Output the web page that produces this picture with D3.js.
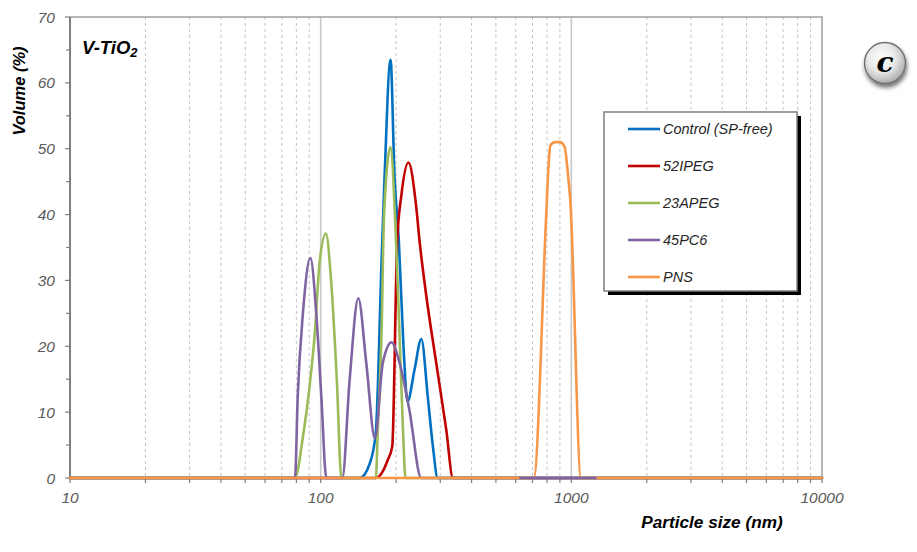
<!DOCTYPE html>
<html><head><meta charset="utf-8">
<script src="https://cdn.jsdelivr.net/npm/d3@7"></script>
<style>body{margin:0;background:#fff}svg{display:block}</style>
</head><body><svg id="chart" width="917" height="552"></svg>
<script>
// ---- data ----
const seriesNames  = ["Control (SP-free)", "52IPEG", "23APEG", "45PC6", "PNS"];
const seriesColors = ["#0070C0", "#C00000", "#9BBB59", "#8064A2", "#F79646"];

const controlSize = [10, 143, 157, 166, 175, 180, 190, 197, 205, 214, 222, 237, 252, 268, 280, 293, 10000];
const controlVol  = [0, 0, 2.2, 7, 33, 46, 63.5, 46, 36, 20, 11.6, 16.5, 21.1, 12, 5, 0, 0];

const ipegSize = [10, 166, 178, 185, 193, 202, 210, 224, 240, 248, 264, 289, 317, 337, 10000];
const ipegVol  = [0, 0, 1.2, 2.7, 4.8, 36, 43, 47.9, 41.5, 36, 27.6, 17.5, 7.3, 0, 0];

const apegSize = [10, 79, 85, 90, 95, 99, 105, 110, 116, 121, 166, 169, 175, 179, 190, 199, 206, 213, 218, 10000];
const apegVol  = [0, 0, 6.3, 13.4, 22.5, 32.7, 37.1, 30.1, 14.9, 0, 0, 7.3, 22.5, 40, 50.2, 37.7, 22.5, 7.3, 0, 0];

const pc6Size = [10, 79, 81, 85, 91, 96, 100.6, 105.4, 122, 130.5, 141.3, 152, 164.6, 177, 191.8, 206.4, 226, 252, 10000];
const pc6Vol  = [0, 0, 12.4, 25.1, 33.4, 25.1, 12.4, 0, 0, 14.9, 27.3, 17.5, 6.0, 17.5, 20.6, 17.5, 10.3, 0, 0];
const pc6TailSize = [620, 1260];
const pc6TailVol  = [0, 0];

const pnsSize = [10, 708, 793, 810, 825, 860, 900, 940, 970, 991, 1093, 10000];
const pnsVol  = [0, 0, 39.5, 47, 50.5, 51, 51, 50.3, 46, 42, 0, 0];

const xTickLabels = [10, 100, 1000, 10000];
const yTickLabels = [0, 10, 20, 30, 40, 50, 60, 70];
const chartTitle = "V-TiO";
const xTitle = "Particle size (nm)";
const yTitle = "Volume (%)";
const panelLetter = "c";

// ---- drawing ----
const FONT = "'Liberation Sans', Arial, sans-serif";
const svg = d3.select("#chart");
const L = 70, R = 822, T = 17, B = 478;
const x = d3.scaleLog().domain([10, 10000]).range([L, R]);
const y = d3.scaleLinear().domain([0, 70]).range([B, T]);

const defs = svg.append("defs");
const rg = defs.append("radialGradient").attr("id", "gc").attr("cx", "42%").attr("cy", "38%").attr("r", "62%");
rg.append("stop").attr("offset", "0%").attr("stop-color", "#ffffff");
rg.append("stop").attr("offset", "55%").attr("stop-color", "#e8e8e8");
rg.append("stop").attr("offset", "100%").attr("stop-color", "#aeaeae");
const f = defs.append("filter").attr("id", "sh").attr("x", "-50%").attr("y", "-50%").attr("width", "200%").attr("height", "200%");
f.append("feDropShadow").attr("dx", 1).attr("dy", 3.5).attr("stdDeviation", 2.2).attr("flood-color", "#000").attr("flood-opacity", 0.55);

// minor / major grid positions
const minorVals = [], allTicks = [];
for (let p = 10; p < 10000; p *= 10) {
  for (let k = 1; k <= 9; k++) { allTicks.push(k * p); if (k > 1) minorVals.push(k * p); }
}
allTicks.push(10000);

svg.append("g").selectAll("line").data(minorVals).join("line")
  .attr("x1", d => x(d)).attr("x2", d => x(d)).attr("y1", T).attr("y2", B)
  .attr("stroke", "#c4c4c4").attr("stroke-width", 1).attr("stroke-dasharray", "3,3");
svg.append("g").selectAll("line").data([100, 1000]).join("line")
  .attr("x1", d => x(d)).attr("x2", d => x(d)).attr("y1", T).attr("y2", B)
  .attr("stroke", "#c8c8c8").attr("stroke-width", 1.6);

// frame: top & right
svg.append("path").attr("d", `M${L},${T}H${R}V${B}`).attr("fill", "none")
  .attr("stroke", "#a0a0a0").attr("stroke-width", 1.5);

// x axis
svg.append("line").attr("x1", L).attr("x2", R).attr("y1", B).attr("y2", B).attr("stroke", "#808080").attr("stroke-width", 1.5);
svg.append("g").selectAll("line").data(allTicks).join("line")
  .attr("x1", d => x(d)).attr("x2", d => x(d)).attr("y1", B).attr("y2", B + 5)
  .attr("stroke", "#808080").attr("stroke-width", 1.2);
svg.append("g").selectAll("text").data(xTickLabels).join("text")
  .attr("x", d => x(d)).attr("y", 503).attr("text-anchor", "middle")
  .attr("font-family", FONT).attr("font-style", "italic").attr("font-size", 15.5).attr("fill", "#595959")
  .text(d => d);

// y axis
svg.append("line").attr("x1", L).attr("x2", L).attr("y1", T).attr("y2", B).attr("stroke", "#808080").attr("stroke-width", 2);
const yMinor = d3.range(5, 70, 10);
svg.append("g").selectAll("line").data(yTickLabels).join("line")
  .attr("x1", L - 5).attr("x2", L).attr("y1", d => y(d)).attr("y2", d => y(d)).attr("stroke", "#808080").attr("stroke-width", 1.2);
svg.append("g").selectAll("line").data(yMinor).join("line")
  .attr("x1", L - 4).attr("x2", L).attr("y1", d => y(d)).attr("y2", d => y(d)).attr("stroke", "#808080").attr("stroke-width", 1.2);
svg.append("g").selectAll("text").data(yTickLabels).join("text")
  .attr("x", 55).attr("y", d => y(d) + 5.5).attr("text-anchor", "end")
  .attr("font-family", FONT).attr("font-style", "italic").attr("font-size", 15.5).attr("fill", "#595959")
  .text(d => d);

// axis titles
svg.append("text").attr("transform", "translate(25,91) rotate(-90)").attr("text-anchor", "middle")
  .attr("font-family", FONT).attr("font-weight", "bold").attr("font-style", "italic").attr("font-size", 16.5)
  .attr("fill", "#000").text(yTitle);
svg.append("text").attr("x", 712).attr("y", 528).attr("text-anchor", "middle")
  .attr("font-family", FONT).attr("font-weight", "bold").attr("font-style", "italic").attr("font-size", 17.2)
  .attr("fill", "#000").text(xTitle);

// chart title
const tt = svg.append("text").attr("x", 82).attr("y", 54)
  .attr("font-family", FONT).attr("font-weight", "bold").attr("font-style", "italic").attr("font-size", 18.5).attr("fill", "#000");
tt.append("tspan").text(chartTitle);
tt.append("tspan").attr("dy", 3).attr("font-size", 13).text("2");

// series
const line = d3.line().x(d => x(d[0])).y(d => y(d[1])).curve(d3.curveMonotoneX);
const series = [
  [controlSize, controlVol],
  [ipegSize, ipegVol],
  [apegSize, apegVol],
  [pc6Size, pc6Vol],
  [pnsSize, pnsVol]
];
const gS = svg.append("g");
series.forEach((s, i) => {
  gS.append("path").datum(d3.zip(s[0], s[1])).attr("d", line)
    .attr("fill", "none").attr("stroke", seriesColors[i]).attr("stroke-width", 2.6)
    .attr("stroke-linejoin", "round").attr("stroke-linecap", "round");
});
gS.append("path").datum(d3.zip(pc6TailSize, pc6TailVol)).attr("d", line)
  .attr("fill", "none").attr("stroke", seriesColors[3]).attr("stroke-width", 2.6);

// legend
const lg = svg.append("g");
lg.append("rect").attr("x", 608).attr("y", 116).attr("width", 193).attr("height", 179).attr("fill", "#000");
lg.append("rect").attr("x", 604).attr("y", 112).attr("width", 193).attr("height", 179)
  .attr("fill", "#fff").attr("stroke", "#7f7f7f").attr("stroke-width", 1.5);
seriesNames.forEach((n, i) => {
  const yy = 129 + i * 37;
  lg.append("line").attr("x1", 628).attr("x2", 660).attr("y1", yy).attr("y2", yy)
    .attr("stroke", seriesColors[i]).attr("stroke-width", 2.6);
  lg.append("text").attr("x", 663).attr("y", yy + 5).attr("font-family", FONT).attr("font-style", "italic")
    .attr("font-size", 14.5).attr("fill", "#262626").text(n);
});

// panel letter
svg.append("circle").attr("cx", 885).attr("cy", 63).attr("r", 20.5)
  .attr("fill", "url(#gc)").attr("stroke", "#6e6e6e").attr("stroke-width", 1.3).attr("filter", "url(#sh)");
svg.append("text").attr("x", 885).attr("y", 72).attr("text-anchor", "middle")
  .attr("font-family", "'DejaVu Serif', 'Liberation Serif', serif").attr("font-weight", "bold").attr("font-style", "italic")
  .attr("font-size", 28).attr("fill", "#000").text(panelLetter);
</script></body></html>
